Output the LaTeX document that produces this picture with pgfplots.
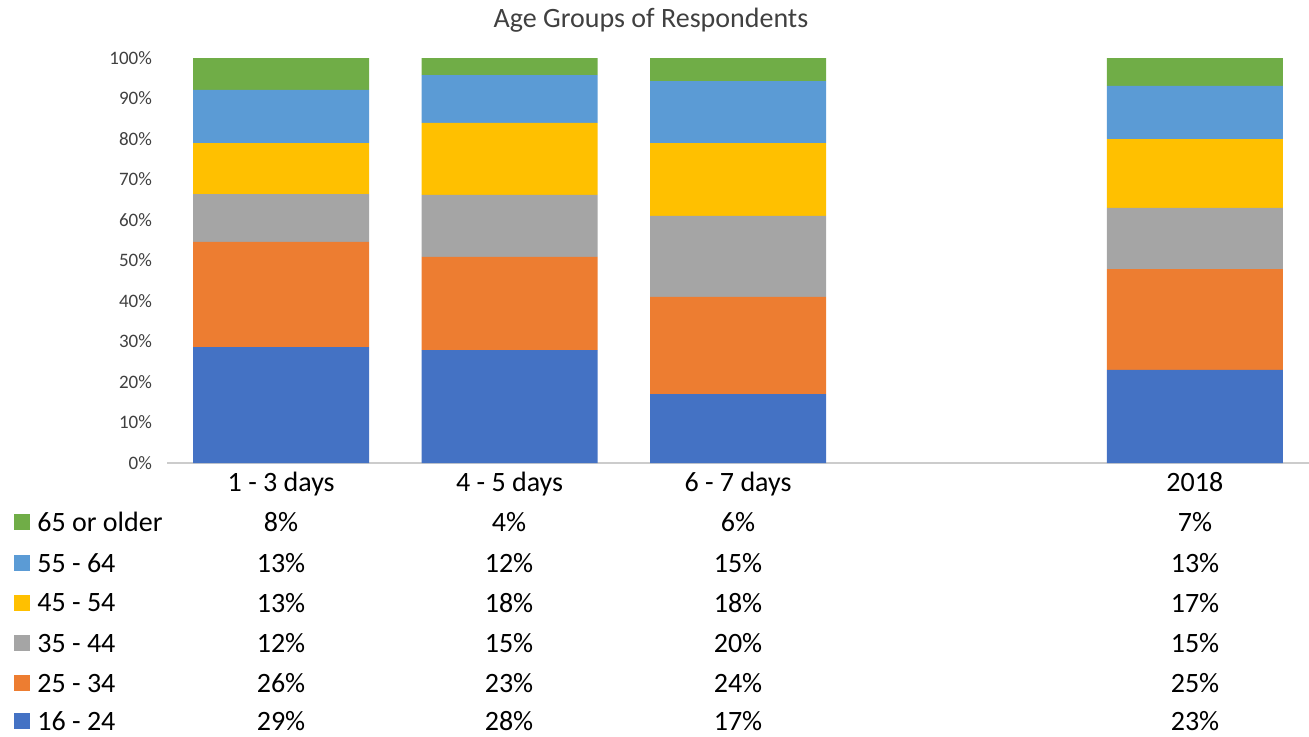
\documentclass[border=0pt]{standalone}
\usepackage{fontspec}
\setmainfont{Carlito}
\usepackage{pgfplots}
\pgfplotsset{compat=1.18}

\definecolor{cA}{HTML}{4472C4}
\definecolor{cB}{HTML}{ED7D31}
\definecolor{cC}{HTML}{A5A5A5}
\definecolor{cD}{HTML}{FFC000}
\definecolor{cE}{HTML}{5B9BD5}
\definecolor{cF}{HTML}{70AD47}
\definecolor{txt}{HTML}{404040}

\begin{document}
\begin{tikzpicture}[x=0.5pt,y=0.5pt]
\path[use as bounding box] (0,0) rectangle (1309,736);

\begin{axis}[
  at={(83.5pt,136.5pt)}, anchor=south west,
  scale only axis, width=571pt, height=202.5pt,
  ybar stacked, bar width=88pt,
  xmin=-0.5, xmax=4.5, ymin=0, ymax=100,
  xtick={0,1,2,4},
  xticklabels={1 - 3 days, 4 - 5 days, 6 - 7 days, 2018},
  xticklabel style={font=\fontsize{14}{16}\selectfont, text=black, yshift=-1pt},
  ytick={0,10,...,100},
  yticklabel={\pgfmathprintnumber{\tick}\%},
  yticklabel style={font=\fontsize{9.5}{11}\selectfont, text=txt, xshift=-4pt},
  /pgf/number format/assume math mode=true,
  major tick length=0pt,
  axis x line*=bottom, axis y line*=left,
  x axis line style={draw=black!20, line width=0.8pt, -},
  y axis line style={draw=none},
  clip=false,
  every axis plot/.append style={draw=none},
]
\addplot[fill=cA] coordinates {(0,28.6) (1,27.9) (2,17.0) (4,23.0)};
\addplot[fill=cB] coordinates {(0,26.0) (1,23.0) (2,24.0) (4,24.9)};
\addplot[fill=cC] coordinates {(0,11.8) (1,15.3) (2,20.0) (4,15.1)};
\addplot[fill=cD] coordinates {(0,12.6) (1,17.8) (2,18.0) (4,17.0)};
\addplot[fill=cE] coordinates {(0,13.1) (1,11.8) (2,15.3) (4,13.1)};
\addplot[fill=cF] coordinates {(0,7.9) (1,4.2) (2,5.7) (4,6.9)};
\end{axis}

\node[text=txt, font=\fontsize{14}{16}\selectfont] at (651,716) {Age Groups of Respondents};

\begin{scope}[every node/.style={font=\fontsize{14}{16}\selectfont, inner sep=0pt}]
% legend keys and labels
\foreach \c/\l/\y in {cF/65 or older/214, cE/55 - 64/173, cD/45 - 54/133,
                      cC/35 - 44/93, cB/25 - 34/53, cA/16 - 24/15} {
  \fill[\c] (14,\y-8) rectangle (30,\y+8);
  \node[anchor=west] at (37,\y) {\l};
}
% table values
\foreach \y/\a/\b/\c/\d in {214/8/4/6/7, 173/13/12/15/13, 133/13/18/18/17,
                            93/12/15/20/15, 53/26/23/24/25, 15/29/28/17/23} {
  \node at (281,\y) {\a\%};
  \node at (509,\y) {\b\%};
  \node at (738,\y) {\c\%};
  \node at (1195,\y) {\d\%};
}
\end{scope}
\end{tikzpicture}
\end{document}
